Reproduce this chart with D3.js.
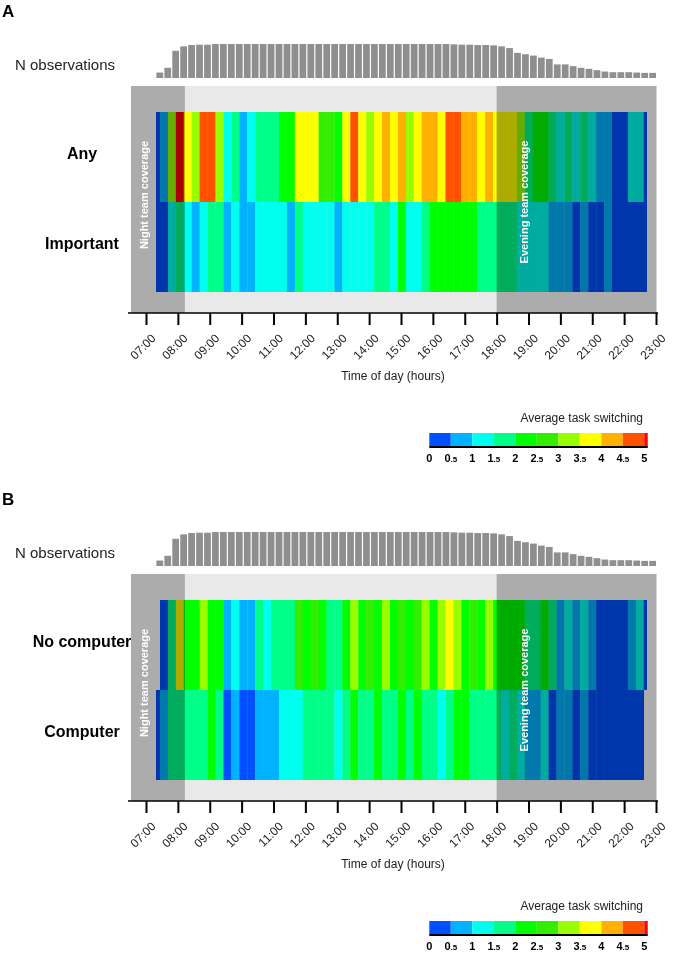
<!DOCTYPE html>
<html>
<head>
<meta charset="utf-8">
<script src="https://cdn.jsdelivr.net/npm/d3@7"></script>
<style>
  body { margin: 0; background: #fff; }
  svg { font-family: "Liberation Sans", Arial, sans-serif; }
  .shade { mix-blend-mode: multiply; }
</style>
</head>
<body>
<svg id="chart" width="673" height="959"></svg>
<script>
// 15-minute slots shown in the heatmap / histogram
const slots = d3.range(63).map(i => d3.timeFormat("%H:%M")(new Date(2000, 0, 1, 7, 15 + 15 * i)));

const hours = [7, 8, 9, 10, 11, 12, 13, 14, 15, 16, 17, 18, 19, 20, 21, 22, 23];
const hourLabels = ["07:00", "08:00", "09:00", "10:00", "11:00", "12:00", "13:00", "14:00", "15:00",
                    "16:00", "17:00", "18:00", "19:00", "20:00", "21:00", "22:00", "23:00"];

// coverage periods (hours)
const nightCoverage = [6.53, 8.22];
const eveningCoverage = [18.0, 23.0];

// number of observations per slot (relative)
const nObs = [16, 30, 80, 93, 97, 98, 98, 100, 100, 100, 100, 100, 100, 100, 100, 100, 100, 100, 100, 100,
              100, 100, 100, 100, 100, 100, 100, 100, 100, 100, 100, 100, 100, 100, 100, 100, 100, 99, 98, 98,
              97, 97, 96, 93, 88, 74, 70, 66, 60, 56, 40, 40, 35, 30, 27, 23, 19, 17, 17, 17,
              16, 15, 15];

// average task switching per slot
const anyA = [0.3, 0.8, 3.2, 5.2, 3.7, 3.3, 4.7, 4.8, 3.2, 1.3, 1.8, 0.9, 1.2, 1.7, 1.9, 1.8, 2.2, 2.3, 3.6, 3.8,
              3.7, 2.6, 2.7, 2.4, 3.7, 4.6, 3.9, 3.4, 3.8, 4.2, 3.7, 4.1, 3.3, 3.6, 4.3, 4.2, 3.9, 4.7, 4.9, 4.1,
              4.4, 3.8, 4.2, 3.7, 3.6, 3.6, 3.1, 1.9, 2.3, 2.4, 1.7, 1.4, 1.6, 1.3, 1.6, 1.4, 0.7, 0.8, 0.4, 0.3,
              1.2, 1.3, 0.4];
const importantA = [0.3, 0.4, 1.1, 1.6, 1.2, 0.8, 1.1, 1.7, 1.6, 0.9, 1.2, 0.8, 0.7, 1.1, 1.2, 1.3, 1.2, 0.9, 1.6, 1.2,
                    1.3, 1.1, 1.2, 0.8, 1.1, 1.2, 1.3, 1.2, 1.6, 1.7, 1.3, 2.1, 1.2, 1.1, 1.8, 2.2, 2.3, 2.1, 2.2, 2.4,
                    2.2, 1.8, 1.7, 1.6, 1.7, 1.6, 1.3, 1.2, 1.1, 1.2, 0.9, 0.8, 0.7, 0.4, 0.6, 0.3, 0.4, 0.6, 0.3, 0.4,
                    0.3, 0.2, 0.3];
const noComputerB = [null, 0.4, 1.7, 3.6, 2.3, 2.2, 3.1, 2.4, 2.2, 0.8, 1.2, 0.7, 0.8, 1.7, 1.3, 1.8, 1.6, 1.9, 2.6, 2.2,
                     2.6, 2.3, 1.8, 1.9, 2.2, 3.1, 2.4, 2.6, 2.3, 3.2, 2.4, 2.7, 2.3, 2.8, 3.2, 2.4, 3.1, 3.6, 3.2, 2.4,
                     2.6, 2.4, 3.1, 2.4, 2.3, 2.3, 2.2, 1.8, 1.9, 2.2, 1.8, 0.8, 1.2, 0.7, 1.3, 0.8, 0.3, 0.4, 0.3, 0.4,
                     0.8, 1.2, 0.4];
const computerB = [0.4, 0.8, 1.7, 1.6, 1.8, 1.7, 1.9, 2.1, 1.8, 0.3, 0.7, 0.2, 0.3, 0.7, 0.8, 0.9, 1.1, 1.2, 1.3, 1.7,
                   1.8, 1.6, 1.9, 1.4, 1.8, 2.1, 1.7, 1.8, 2.2, 1.9, 1.7, 2.1, 1.8, 2.2, 1.7, 1.9, 1.3, 1.8, 2.1, 2.2,
                   1.8, 1.7, 1.9, 1.8, 1.3, 1.6, 1.2, 0.9, 0.8, 1.1, 0.4, 0.7, 0.8, 0.3, 0.7, 0.3, 0.4, 0.3, 0.2, 0.3,
                   0.4, 0.3, null];

// colour legend
const breaks = [0.5, 1, 1.5, 2, 2.5, 3, 3.5, 4, 4.5, 5];
const colors = ["#0050ff", "#00b2ff", "#00ffee", "#00ff88", "#00ff00", "#33ee00", "#99ff00",
                "#ffff00", "#ffb000", "#ff5200", "#ff0000"];
const legendStops = [0, 0.5, 1, 1.5, 2, 2.5, 3, 3.5, 4, 4.5, 5, 5.08];
const legendTicks = ["0", "0.5", "1", "1.5", "2", "2.5", "3", "3.5", "4", "4.5", "5"];

const panels = [
  { letter: "A", top: 0, rows: ["Any", "Important"], values: [anyA, importantA] },
  { letter: "B", top: 488, rows: ["No computer", "Computer"], values: [noComputerB, computerB] }
];

const svg = d3.select("#chart");

const x = d3.scaleLinear().domain([7, 23]).range([146, 656]);
const xCell = d3.scaleBand().domain(slots).range([152.07, 651.66]);
const xBar = d3.scaleBand().domain(slots).range([156.4, 656]).paddingInner(0.15);
const yBar = d3.scaleLinear().domain([0, 100]).range([78, 44]);
const color = d3.scaleThreshold().domain(breaks).range(colors);
const legendX = d3.scaleLinear().domain([0, 5]).range([429.3, 644.3]);

const boxLeft = 131, boxRight = 656.5, boxTop = 86, boxBottom = 313;
const legTop = 433;

panels.forEach((p, pi) => {
  const g = svg.append("g").attr("transform", `translate(0,${p.top})`);

  g.append("text")
   .attr("x", 2).attr("y", 17)
   .attr("font-size", 17).attr("font-weight", "bold")
   .text(p.letter);

  g.append("text")
   .attr("x", 15).attr("y", 70)
   .attr("font-size", 15).attr("fill", "#222")
   .text("N observations");

  g.selectAll(".bar")
   .data(nObs)
   .enter()
   .append("rect")
   .attr("class", "bar")
   .attr("x", (d, i) => xBar(slots[i]))
   .attr("y", d => yBar(d))
   .attr("width", xBar.bandwidth())
   .attr("height", d => yBar(0) - yBar(d))
   .attr("fill", "#8f8f8f");

  // light grey day region
  g.append("rect")
   .attr("x", x(nightCoverage[1]))
   .attr("y", boxTop)
   .attr("width", x(eveningCoverage[0]) - x(nightCoverage[1]))
   .attr("height", boxBottom - boxTop)
   .attr("fill", "#e9e9e9");

  const yRow = d3.scaleBand().domain(p.rows).range([112, 292]);

  const clipId = "clip" + pi;
  g.append("clipPath").attr("id", clipId)
   .append("rect").attr("x", 156).attr("y", 112).attr("width", 491).attr("height", 180);

  const cells = [];
  p.rows.forEach((r, ri) => {
    p.values[ri].forEach((v, i) => {
      if (v !== null) cells.push({ row: r, slot: slots[i], v: v });
    });
  });

  g.append("g").attr("clip-path", `url(#${clipId})`)
   .selectAll(".cell")
   .data(cells)
   .enter()
   .append("rect")
   .attr("class", "cell")
   .attr("x", d => xCell(d.slot))
   .attr("y", d => yRow(d.row))
   .attr("width", xCell.bandwidth() + 0.3)
   .attr("height", yRow.bandwidth())
   .attr("fill", d => color(d.v));

  // team coverage shading
  g.append("rect").attr("class", "shade")
   .attr("x", boxLeft).attr("y", boxTop)
   .attr("width", x(nightCoverage[1]) - boxLeft)
   .attr("height", boxBottom - boxTop)
   .attr("fill", "#acacac");
  g.append("rect").attr("class", "shade")
   .attr("x", x(eveningCoverage[0])).attr("y", boxTop)
   .attr("width", boxRight - x(eveningCoverage[0]))
   .attr("height", boxBottom - boxTop)
   .attr("fill", "#acacac");

  g.append("text")
   .attr("transform", `translate(144,195) rotate(-90)`)
   .attr("text-anchor", "middle").attr("dy", "0.35em")
   .attr("font-size", 11).attr("font-weight", "bold").attr("fill", "#fff")
   .text("Night team coverage");
  g.append("text")
   .attr("transform", `translate(524,202) rotate(-90)`)
   .attr("text-anchor", "middle").attr("dy", "0.35em")
   .attr("font-size", 11).attr("font-weight", "bold").attr("fill", "#fff")
   .text("Evening team coverage");

  g.selectAll(".rowlab")
   .data(p.rows)
   .enter()
   .append("text")
   .attr("class", "rowlab")
   .attr("x", 82)
   .attr("y", d => yRow(d) + yRow.bandwidth() / 2)
   .attr("dy", "0.15em")
   .attr("text-anchor", "middle")
   .attr("font-size", 16).attr("font-weight", "bold")
   .text(d => d);

  // x axis
  g.append("line")
   .attr("x1", 128).attr("x2", 658)
   .attr("y1", boxBottom).attr("y2", boxBottom)
   .attr("stroke", "#000").attr("stroke-width", 1.5);

  const xAxis = d3.axisBottom(x).tickValues(hours).tickFormat((d, i) => hourLabels[i]).tickSize(12);
  const ax = g.append("g").attr("transform", `translate(0,${boxBottom})`).call(xAxis);
  ax.select(".domain").remove();
  ax.selectAll(".tick line").attr("stroke", "#000").attr("stroke-width", 2);
  ax.selectAll(".tick text")
    .attr("x", 0).attr("y", 0).attr("dy", "0.35em")
    .attr("text-anchor", "end")
    .attr("transform", "translate(7,23) rotate(-45)")
    .attr("font-size", 12)
    .attr("font-family", "Liberation Sans, Arial, sans-serif")
    .attr("fill", "#222");

  g.append("text")
   .attr("x", 393).attr("y", 380)
   .attr("text-anchor", "middle")
   .attr("font-size", 12).attr("fill", "#222")
   .text("Time of day (hours)");

  // legend
  g.append("text")
   .attr("x", 643).attr("y", legTop - 11)
   .attr("text-anchor", "end")
   .attr("font-size", 12).attr("fill", "#222")
   .text("Average task switching");

  g.selectAll(".leg")
   .data(colors)
   .enter()
   .append("rect")
   .attr("class", "leg")
   .attr("x", (d, i) => legendX(legendStops[i]))
   .attr("y", legTop)
   .attr("width", (d, i) => legendX(legendStops[i + 1]) - legendX(legendStops[i]))
   .attr("height", 13)
   .attr("fill", d => d);

  g.append("line")
   .attr("x1", legendX(0)).attr("x2", legendX(legendStops[legendStops.length - 1]))
   .attr("y1", legTop + 14).attr("y2", legTop + 14)
   .attr("stroke", "#000").attr("stroke-width", 2);

  const lt = g.selectAll(".legtick")
   .data(legendTicks)
   .enter()
   .append("text")
   .attr("class", "legtick")
   .attr("x", d => legendX(+d))
   .attr("y", legTop + 29)
   .attr("text-anchor", "middle")
   .attr("font-size", 11).attr("font-weight", "bold");
  lt.append("tspan").text(d => d.split(".")[0]);
  lt.filter(d => d.includes("."))
    .append("tspan").attr("font-size", 8).text(d => "." + d.split(".")[1]);
});
</script>
</body>
</html>
